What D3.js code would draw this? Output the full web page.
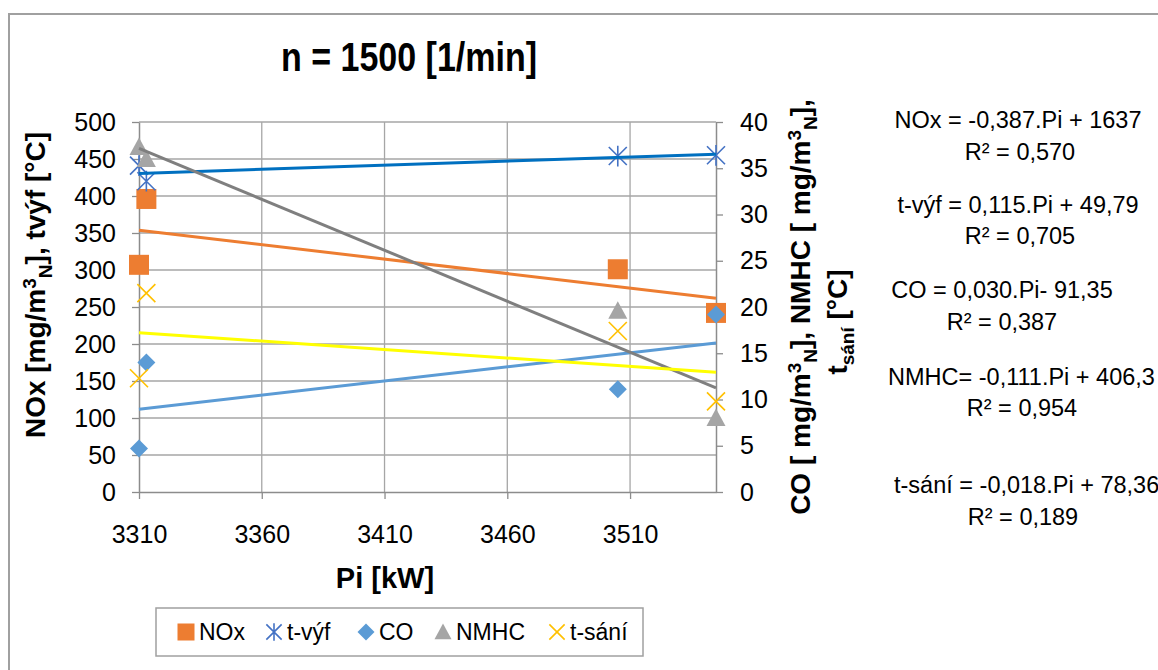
<!DOCTYPE html>
<html>
<head>
<meta charset="utf-8">
<script src="https://cdn.jsdelivr.net/npm/d3@7"></script>
<style>
  html, body { margin: 0; padding: 0; background: #fff; }
  svg { display: block; }
</style>
</head>
<body>
<div id="chart"></div>
<script>
// data
const piValues   = [3310, 3313, 3505, 3545];
const noxValues  = [307, 396, 301, 242];
const tvyfValues = [441, 420, 454, 455];
const coValues   = [4.7, 14.0, 11.1, 19.2];
const nmhcValues = [37.3, 36.0, 19.6, 8.0];
const tsaniValues = [12.3, 21.5, 17.4, 9.8];

const seriesNames = ['NOx', 't-výf', 'CO', 'NMHC', 't-sání'];
const xTicks = [3310, 3360, 3410, 3460, 3510];
const leftTicks = [0, 50, 100, 150, 200, 250, 300, 350, 400, 450, 500];
const rightTicks = [0, 5, 10, 15, 20, 25, 30, 35, 40];
const equationLines = [
  'NOx = -0,387.Pi + 1637', 'R² = 0,570',
  't-výf = 0,115.Pi + 49,79', 'R² = 0,705',
  'CO = 0,030.Pi- 91,35', 'R² = 0,387',
  'NMHC= -0,111.Pi + 406,3', 'R² = 0,954',
  't-sání = -0,018.Pi + 78,36', 'R² = 0,189'
];

const W = 1158, H = 670;
const font = "'Liberation Sans', Arial, sans-serif";

const svg = d3.select('#chart').append('svg')
    .attr('width', W)
    .attr('height', H);

// outer chart frame (runs off the right and bottom edge)
svg.append('rect')
    .attr('x', 9).attr('y', 14)
    .attr('width', 1300).attr('height', 800)
    .attr('fill', 'none')
    .attr('stroke', '#a0a0a0')
    .attr('stroke-width', 2);

// scales
const x = d3.scaleLinear().domain([3310, 3545]).range([139, 716]);
const yL = d3.scaleLinear().domain([0, 500]).range([492, 122]);
const yR = d3.scaleLinear().domain([0, 40]).range([492, 122]);

// gridlines
const grid = svg.append('g').attr('stroke', '#a6a6a6').attr('stroke-width', 1.3);
grid.selectAll('line.h').data(leftTicks.slice(1)).enter().append('line')
    .attr('x1', x.range()[0]).attr('x2', x.range()[1])
    .attr('y1', d => yL(d)).attr('y2', d => yL(d));
grid.selectAll('line.v').data(xTicks.slice(1)).enter().append('line')
    .attr('y1', yL.range()[0]).attr('y2', yL.range()[1])
    .attr('x1', d => x(d)).attr('x2', d => x(d));

// axes
function styleAxis(g, size) {
  g.select('.domain').attr('stroke', '#8c8c8c').attr('stroke-width', 1.5);
  g.selectAll('.tick line').attr('stroke', '#8c8c8c').attr('stroke-width', 1.3);
  g.selectAll('.tick text')
      .attr('fill', '#000')
      .style('font-family', font)
      .style('font-size', size + 'px');
}

svg.append('g')
    .attr('transform', 'translate(0,' + yL.range()[0] + ')')
    .call(d3.axisBottom(x).tickValues(xTicks).tickSize(7).tickSizeOuter(0).tickPadding(26)
      .tickFormat(d3.format('d')))
    .call(g => styleAxis(g, 25));

svg.append('g')
    .attr('transform', 'translate(' + x.range()[0] + ',0)')
    .call(d3.axisLeft(yL).tickValues(leftTicks).tickSize(7).tickSizeOuter(0).tickPadding(16))
    .call(g => styleAxis(g, 25));

svg.append('g')
    .attr('transform', 'translate(' + x.range()[1] + ',0)')
    .call(d3.axisRight(yR).tickValues(rightTicks).tickSize(7).tickSizeOuter(0).tickPadding(17))
    .call(g => styleAxis(g, 25));

// least squares trendline, drawn over the data range
function fit(xs, ys) {
  const mx = d3.mean(xs), my = d3.mean(ys);
  const sxy = d3.sum(xs, (v, i) => (v - mx) * (ys[i] - my));
  const sxx = d3.sum(xs, v => (v - mx) * (v - mx));
  const b = sxy / sxx;
  return v => my + b * (v - mx);
}

const series = [
  { name: seriesNames[0], values: noxValues,   y: yL, marker: 'square',   color: '#ED7D31', trend: '#ED7D31' },
  { name: seriesNames[1], values: tvyfValues,  y: yL, marker: 'star',     color: '#4472C4', trend: '#0070C0' },
  { name: seriesNames[2], values: coValues,    y: yR, marker: 'diamond',  color: '#5B9BD5', trend: '#5B9BD5' },
  { name: seriesNames[3], values: nmhcValues,  y: yR, marker: 'triangle', color: '#A5A5A5', trend: '#7F7F7F' },
  { name: seriesNames[4], values: tsaniValues, y: yR, marker: 'cross',    color: '#FFC000', trend: '#FFFF00' }
];

function drawMarker(g, type, color, s) {
  if (type === 'square') {
    g.append('rect').attr('x', -s * 0.5).attr('y', -s * 0.5).attr('width', s).attr('height', s)
        .attr('fill', color);
  } else if (type === 'diamond') {
    const r = s * 0.5;
    g.append('path').attr('d', `M0,${-r}L${r},0L0,${r}L${-r},0Z`).attr('fill', color);
  } else if (type === 'triangle') {
    const r = s * 0.5;
    g.append('path').attr('d', `M0,${-r}L${r},${r * 0.85}L${-r},${r * 0.85}Z`).attr('fill', color);
  } else if (type === 'cross') {
    const r = s * 0.45;
    g.append('path').attr('d', `M${-r},${-r}L${r},${r}M${-r},${r}L${r},${-r}`)
        .attr('stroke', color).attr('stroke-width', 1.6).attr('fill', 'none');
  } else if (type === 'star') {
    const r = s * 0.45;
    g.append('path').attr('d', `M${-r},${-r}L${r},${r}M${-r},${r}L${r},${-r}M0,${-r * 1.15}L0,${r * 1.15}`)
        .attr('stroke', color).attr('stroke-width', 1.6).attr('fill', 'none');
  }
}

const markerSize = { square: 20, star: 20, diamond: 18, triangle: 19, cross: 20 };
const xExtent = d3.extent(piValues);

series.forEach(s => {
  const pts = s.values.map((v, i) => ({ px: piValues[i], v: v }));
  const sg = svg.append('g');
  pts.forEach(p => {
    drawMarker(sg.append('g').attr('transform', `translate(${x(p.px)},${s.y(p.v)})`),
      s.marker, s.color, markerSize[s.marker]);
  });
  const f = fit(piValues, s.values);
  sg.append('line')
      .attr('x1', x(xExtent[0])).attr('y1', s.y(f(xExtent[0])))
      .attr('x2', x(xExtent[1])).attr('y2', s.y(f(xExtent[1])))
      .attr('stroke', s.trend)
      .attr('stroke-width', 3);
});

// title (squeezed a little to look like the narrow face of the original)
svg.append('text')
    .attr('transform', 'translate(409,71) scale(0.83,1)')
    .attr('text-anchor', 'middle')
    .style('font-family', font)
    .style('font-weight', 'bold')
    .style('font-size', '41px')
    .text('n = 1500 [1/min]');

// x axis title
svg.append('text')
    .attr('x', 385).attr('y', 588)
    .attr('text-anchor', 'middle')
    .style('font-family', font)
    .style('font-weight', 'bold')
    .style('font-size', '29px')
    .text('Pi [kW]');

// helper for rotated titles with sup/sub parts
function richText(t, parts) {
  parts.forEach(p => {
    const ts = t.append('tspan').text(p.t);
    if (p.sup) ts.attr('dy', -9).style('font-size', '19px');
    else if (p.sub) ts.attr('dy', p.dy || 16).style('font-size', '19px');
    else if (p.back) ts.attr('dy', p.back);
  });
}

const leftTitle = svg.append('text')
    .attr('transform', 'translate(45,285) rotate(-90)')
    .attr('text-anchor', 'middle')
    .style('font-family', font)
    .style('font-weight', 'bold')
    .style('font-size', '28px');
richText(leftTitle, [
  { t: 'NOx [mg/m' }, { t: '3', sup: true }, { t: 'N', sub: true },
  { t: '], tvýf [°C]', back: -7 }
]);

const rightTitle1 = svg.append('text')
    .attr('transform', 'translate(810,307) rotate(-90)')
    .attr('text-anchor', 'middle')
    .style('font-family', font)
    .style('font-weight', 'bold')
    .style('font-size', '28px');
richText(rightTitle1, [
  { t: 'CO [ mg/m' }, { t: '3', sup: true }, { t: 'N', sub: true },
  { t: '], NMHC [ mg/m', back: -7 }, { t: '3', sup: true }, { t: 'N', sub: true },
  { t: '],', back: -7 }
]);

const rightTitle2 = svg.append('text')
    .attr('transform', 'translate(847,322) rotate(-90)')
    .attr('text-anchor', 'middle')
    .style('font-family', font)
    .style('font-weight', 'bold')
    .style('font-size', '28px');
richText(rightTitle2, [
  { t: 't' }, { t: 'sání', sub: true, dy: 7 }, { t: ' [°C]', back: -7 }
]);

// trendline equations
const eqPos = [
  { x: 1018, y: 128, a: 'middle' }, { x: 1020, y: 160, a: 'middle' },
  { x: 1018, y: 213, a: 'middle' }, { x: 1020, y: 244, a: 'middle' },
  { x: 1002, y: 298, a: 'middle' }, { x: 1002, y: 330, a: 'middle' },
  { x: 888,  y: 385, a: 'start' },  { x: 1022, y: 416, a: 'middle' },
  { x: 894,  y: 493, a: 'start' },  { x: 1023, y: 525, a: 'middle' }
];
svg.append('g').selectAll('text').data(equationLines).enter().append('text')
    .attr('x', (d, i) => eqPos[i].x)
    .attr('y', (d, i) => eqPos[i].y)
    .attr('text-anchor', (d, i) => eqPos[i].a)
    .style('font-family', font)
    .style('font-size', '23.5px')
    .text(d => d);

// legend
const legend = svg.append('g');
legend.append('rect')
    .attr('x', 156).attr('y', 608)
    .attr('width', 487).attr('height', 48)
    .attr('fill', '#fff')
    .attr('stroke', '#a0a0a0')
    .attr('stroke-width', 1.5);
const legendX = [186, 274, 366, 443, 557];
series.forEach((s, i) => {
  drawMarker(legend.append('g').attr('transform', `translate(${legendX[i]},632)`),
    s.marker, s.color, 17);
  legend.append('text')
      .attr('x', legendX[i] + 13).attr('y', 640)
      .style('font-family', font)
      .style('font-size', '23px')
      .text(s.name);
});
</script>
</body>
</html>
